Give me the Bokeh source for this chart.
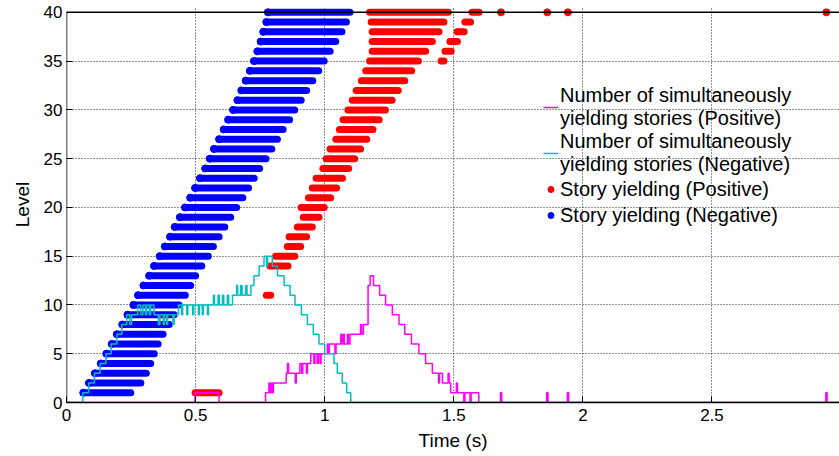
from bokeh.plotting import figure
from bokeh.models import Range1d, FixedTicker, Legend, LegendItem, ColumnDataSource
from bokeh.embed import file_html
from bokeh.resources import INLINE

# ---- data ----
blue_level = list(range(1, 41))
blue_start = [0.065, 0.087, 0.110, 0.133, 0.154, 0.175, 0.195, 0.216, 0.236, 0.259,
              0.277, 0.298, 0.320, 0.339, 0.361, 0.381, 0.401, 0.419, 0.439, 0.459,
              0.479, 0.498, 0.517, 0.537, 0.555, 0.571, 0.591, 0.609, 0.626, 0.645,
              0.662, 0.677, 0.694, 0.710, 0.726, 0.739, 0.752, 0.762, 0.774, 0.780]
blue_end = [0.249, 0.288, 0.309, 0.326, 0.340, 0.355, 0.374, 0.398, 0.417, 0.436,
            0.460, 0.481, 0.500, 0.524, 0.549, 0.569, 0.591, 0.613, 0.636, 0.659,
            0.683, 0.705, 0.727, 0.748, 0.773, 0.795, 0.817, 0.839, 0.864, 0.884,
            0.909, 0.930, 0.954, 0.977, 0.998, 1.021, 1.043, 1.067, 1.084, 1.098]

red_level = [1, 11, 14, 15, 16, 17, 18, 19, 20, 21, 22, 23, 24, 25, 26, 27, 28, 29, 30,
             31, 32, 33, 34, 35, 36, 37, 38, 39, 40, 35, 36, 37, 38, 39, 40]
red_start = [0.498, 0.774, 0.788, 0.810, 0.855, 0.862, 0.894, 0.917, 0.909, 0.937,
             0.952, 0.967, 0.993, 1.006, 1.021, 1.043, 1.057, 1.071, 1.090, 1.107,
             1.122, 1.142, 1.159, 1.174, 1.184, 1.184, 1.184, 1.180, 1.174,
             1.451, 1.466, 1.485, 1.513, 1.543, 1.571]
red_end = [0.591, 0.791, 0.858, 0.884, 0.907, 0.930, 0.952, 0.978, 0.998, 1.023,
           1.046, 1.069, 1.093, 1.116, 1.139, 1.163, 1.187, 1.211, 1.235, 1.261,
           1.285, 1.310, 1.337, 1.363, 1.391, 1.417, 1.443, 1.462, 1.479,
           1.462, 1.490, 1.514, 1.540, 1.565, 1.598]
red_dot_t = [1.683, 1.862, 1.942, 2.943]
red_dot_level = [40, 40, 40, 40]

cyan_t = [0, 0.063, 0.086, 0.108, 0.130, 0.153, 0.173, 0.195, 0.214, 0.233, 0.245, 0.252,
          0.276, 0.288, 0.296, 0.306, 0.311, 0.321, 0.326, 0.339,
          0.356, 0.362, 0.375, 0.379, 0.388, 0.392, 0.412, 0.417,
          0.434, 0.446, 0.450, 0.466, 0.470, 0.489, 0.493, 0.511, 0.515, 0.526, 0.530, 0.546, 0.550,
          0.569, 0.573, 0.587, 0.592, 0.604, 0.609, 0.623, 0.628, 0.643,
          0.659, 0.663, 0.675, 0.680, 0.694, 0.699, 0.714,
          0.726, 0.746, 0.765, 0.775, 0.779, 0.797, 0.817, 0.843, 0.866, 0.885, 0.910,
          0.933, 0.956, 0.978, 1.000, 1.036, 1.049, 1.068, 1.085, 1.101, 3.0]
cyan_n = [0, 1, 2, 3, 4, 5, 6, 7, 8, 9, 8, 9,
          10, 9, 10, 9, 10, 9, 10, 9,
          8, 9, 8, 9, 8, 9, 8, 9,
          10, 9, 10, 9, 10, 9, 10, 9, 10, 9, 10, 9, 10,
          11, 10, 11, 10, 11, 10, 11, 10, 11,
          12, 11, 12, 11, 12, 11, 12,
          13, 14, 15, 14, 15, 14, 13, 12, 11, 10, 9,
          8, 7, 6, 5, 4, 3, 2, 1, 0, 0]

mag_t = [0, 0.498, 0.591, 0.771, 0.784, 0.788, 0.793, 0.797, 0.801, 0.851, 0.856, 0.860,
         0.886, 0.890, 0.904, 0.911, 0.915, 0.929, 0.933, 0.946, 0.958, 0.962, 0.971, 0.975,
         0.982, 0.986, 1.010, 1.014, 1.018, 1.040, 1.044, 1.062, 1.066, 1.072, 1.076, 1.088,
         1.092, 1.098, 1.139, 1.143, 1.150, 1.168, 1.176, 1.189, 1.213, 1.236, 1.262, 1.288,
         1.310, 1.336, 1.365, 1.391, 1.417, 1.441, 1.445, 1.456, 1.478, 1.482, 1.488, 1.510,
         1.514, 1.539, 1.543, 1.563, 1.567, 1.597, 1.681, 1.686, 1.860, 1.865, 1.940, 1.945,
         2.941, 2.946, 3.0]
mag_n = [0, 1, 0, 1, 2, 1, 2, 1, 2, 3, 4, 3,
         2, 3, 4, 3, 4, 3, 4, 5, 4, 5, 4, 5,
         4, 5, 6, 5, 6, 5, 6, 7, 6, 7, 6, 7,
         6, 7, 8, 7, 8, 12, 13, 12, 11, 10, 9, 8,
         7, 6, 5, 4, 3, 2, 3, 2, 3, 2, 1, 2,
         1, 0, 1, 0, 1, 0, 1, 0, 1, 0, 1, 0,
         1, 0, 0]

x_ticks = [0, 0.5, 1, 1.5, 2, 2.5, 3]
x_tick_labels = ["0", "0.5", "1", "1.5", "2", "2.5", "3"]
y_ticks = [0, 5, 10, 15, 20, 25, 30, 35, 40]

legend_labels = ["Number of simultaneously\nyielding stories (Positive)",
                 "Number of simultaneously\nyielding stories (Negative)",
                 "Story yielding (Positive)",
                 "Story yielding (Negative)"]

FONT = "Liberation Sans"
BLUE = "#0000FF"
RED = "#FF0000"
CYAN = "#00BFBF"
MAG = "#FF00FF"

p = figure(width=839, height=456, x_range=Range1d(0, 2.994), y_range=Range1d(0, 40.6),
           output_backend="svg", toolbar_location=None,
           min_border_left=66, min_border_right=0, min_border_top=6, min_border_bottom=54)
p.outline_line_color = None
p.background_fill_color = "white"
p.border_fill_color = "white"

blue_src = ColumnDataSource(dict(lv=blue_level, s=blue_start, e=blue_end))
red_src = ColumnDataSource(dict(lv=red_level, s=red_start, e=red_end))

p.segment(x0="s", y0="lv", x1="e", y1="lv", source=blue_src, line_width=7,
          line_cap="round", line_color=BLUE)
blue_dots = p.scatter(x="s", y="lv", source=blue_src, size=7, color=BLUE)
p.segment(x0="s", y0="lv", x1="e", y1="lv", source=red_src, line_width=7,
          line_cap="round", line_color=RED)
red_dots = p.scatter(x=red_dot_t, y=red_dot_level, size=7, color=RED)

mag = p.step(x=mag_t, y=mag_n, mode="after", line_color=MAG, line_width=1.5)
cyan = p.step(x=cyan_t, y=cyan_n, mode="after", line_color=CYAN, line_width=1.5)

# box lines (left and top)
p.segment(x0=[0, 0], y0=[0, 40], x1=[0, 3], y1=[40, 40], line_color="black", line_width=1.5)

# axes
p.xaxis.ticker = FixedTicker(ticks=x_ticks)
p.xaxis.major_label_overrides = {t: l for t, l in zip(x_ticks, x_tick_labels)}
p.yaxis.ticker = FixedTicker(ticks=y_ticks)
for ax in (p.xaxis[0], p.yaxis[0]):
    ax.major_tick_in = 6
    ax.major_tick_out = 0
    ax.minor_tick_line_color = None
    ax.major_tick_line_color = "black"
    ax.major_label_text_font = FONT
    ax.major_label_text_font_size = "17px"
    ax.major_label_text_color = "black"
    ax.axis_label_text_font = FONT
    ax.axis_label_text_font_size = "19px"
    ax.axis_label_text_font_style = "normal"
    ax.axis_label_text_color = "black"
p.xaxis.axis_line_color = "black"
p.xaxis.axis_line_width = 1.5
p.yaxis.axis_line_color = None
p.xaxis.axis_label = "Time (s)"
p.yaxis.axis_label = "Level"
p.xaxis.major_label_standoff = 6
p.yaxis.major_label_standoff = 4
p.xaxis.axis_label_standoff = 6
p.yaxis.axis_label_standoff = 8

p.grid.grid_line_color = "black"
p.grid.grid_line_alpha = 0.85
p.grid.grid_line_dash = "1 2"
p.grid.grid_line_width = 1

items = [LegendItem(label=legend_labels[0], renderers=[mag]),
         LegendItem(label=legend_labels[1], renderers=[cyan]),
         LegendItem(label=legend_labels[2], renderers=[red_dots]),
         LegendItem(label=legend_labels[3], renderers=[blue_dots])]
legend = Legend(items=items, location=(477, 174), background_fill_alpha=0,
                border_line_color=None, label_text_font=FONT, label_text_font_size="20px",
                label_text_color="black", glyph_width=15, glyph_height=26, label_standoff=2,
                spacing=0, padding=0, margin=0, label_text_line_height=1.2)
p.add_layout(legend)

open("out.html", "w").write(file_html(p, INLINE))
